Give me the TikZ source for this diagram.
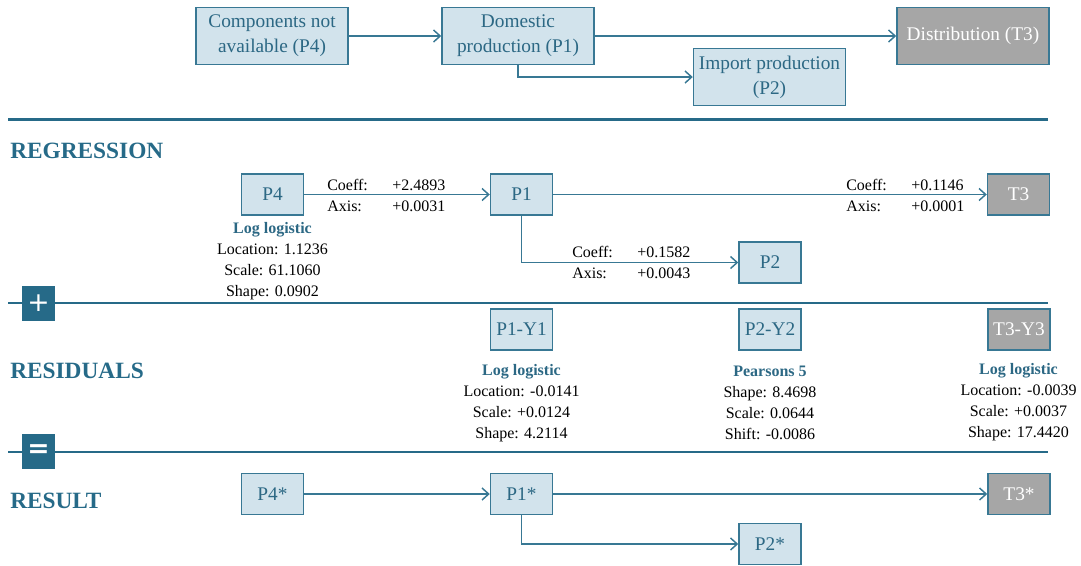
\documentclass[tikz,border=0pt]{standalone}
\usepackage{fontspec}
\setmainfont{Liberation Serif}
\newfontfamily\symfont{DejaVu Sans}
\usepackage{xcolor}
\usepackage{tikz}
\definecolor{lineteal}{RGB}{38, 106, 136}
\definecolor{boxteal}{RGB}{56, 120, 148}
\definecolor{boxfill}{RGB}{210, 227, 236}
\definecolor{textteal}{RGB}{44, 104, 132}
\definecolor{targetgrey}{RGB}{166, 166, 166}
\usetikzlibrary{arrows.meta, positioning, calc}

\begin{document}
\begin{tikzpicture}[
    x=0.75pt, y=-0.75pt,
    >={Straight Barb[length=5pt, width=9pt]},
    stage/.style={rectangle, draw=boxteal, line width=1.1pt, fill=boxfill, text=textteal, minimum width=114pt, minimum height=42.5pt, align=center, inner sep=1pt, font=\fontsize{14.5}{18.75}\selectfont},
    var/.style={rectangle, draw=boxteal, line width=1.1pt, fill=boxfill, text=textteal, minimum width=46.5pt, minimum height=30.5pt, inner sep=0pt, font=\fontsize{14.5}{17}\selectfont},
    goal/.style={var, fill=targetgrey, text=white},
    conn/.style={->, draw=boxteal, line width=1.1pt},
    divider/.style={draw=lineteal, line width=2pt},
    section/.style={anchor=west, text=lineteal, inner sep=0pt, font=\fontsize{17.5}{20}\selectfont\bfseries},
    op/.style={rectangle, fill=lineteal, text=white, minimum width=24.75pt, minimum height=26.25pt, inner sep=0pt, font=\symfont\fontsize{20}{20}\selectfont},
    distinfo/.style={align=center, inner sep=0pt, font=\fontsize{12}{15.75}\selectfont},
    coef/.style={anchor=west, inner sep=0pt, font=\fontsize{12}{15.75}\selectfont}
]
    \useasboundingbox (0,0) rectangle (1081,565);

    % overview
    \node[stage] (comp) at (272,36) {Components not\\available (P4)};
    \node[stage] (dom) at (518,36) {Domestic\\production (P1)};
    \node[stage, fill=targetgrey, text=white] (distr) at (973,36) {Distribution (T3)};
    \node[stage] (imp) at (769.5,77) {Import production\\(P2)};

    \draw[conn] (comp) -- (dom);
    \draw[conn] (dom) -- (distr);
    \draw[conn] (dom.south) |- (imp);

    \draw[divider] (8,119.5) -- (1048,119.5);

    % regression
    \node[section] (reghead) at (10,151) {REGRESSION};
    \node[var] (rp4) at (272.5,194.5) {P4};
    \node[var] (rp1) at (521.5,194.5) {P1};
    \node[goal] (rt3) at (1018.5,194.5) {T3};
    \node[var] (rp2) at (770,262.5) {P2};

    \draw[conn] (rp4) -- (rp1);
    \draw[conn] (rp1) -- (rt3);
    \draw[conn] (rp1.south) |- (rp2);

    \node[coef] (c41) at (327,196.5) {\begin{tabular}{@{}p{48.75pt}@{}l@{}}Coeff: & +2.4893\\Axis: & +0.0031\end{tabular}};
    \node[coef] (c13) at (846,197) {\begin{tabular}{@{}p{48.75pt}@{}l@{}}Coeff: & +0.1146\\Axis: & +0.0001\end{tabular}};
    \node[coef] (c12) at (572,263.5) {\begin{tabular}{@{}p{48.75pt}@{}l@{}}Coeff: & +0.1582\\Axis: & +0.0043\end{tabular}};

    \node[distinfo] (rp4info) at (272.5,261) {\textcolor{textteal}{\bfseries Log logistic}\\Location: 1.1236\\Scale: 61.1060\\Shape: 0.0902};

    \draw[divider] (8,303) -- (1048,303);
    \node[op] (plus) at (38.5,303.5) {+};

    % residuals
    \node[section] (reshead) at (10,371) {RESIDUALS};
    \node[var] (y1) at (521.5,329.5) {P1-Y1};
    \node[var] (y2) at (770,329.5) {P2-Y2};
    \node[goal] (y3) at (1019,329.5) {T3-Y3};

    \node[distinfo] (y1info) at (521.5,403) {\textcolor{textteal}{\bfseries Log logistic}\\Location: -0.0141\\Scale: +0.0124\\Shape: 4.2114};
    \node[distinfo] (y2info) at (770,403) {\textcolor{textteal}{\bfseries Pearsons 5}\\Shape: 8.4698\\Scale: 0.0644\\Shift: -0.0086};
    \node[distinfo] (y3info) at (1018.5,402) {\textcolor{textteal}{\bfseries Log logistic}\\Location: -0.0039\\Scale: +0.0037\\Shape: 17.4420};

    \draw[divider] (8,452) -- (1048,452);
    \node[op, font=\symfont\bfseries\fontsize{20}{20}\selectfont] (equals) at (38.5,451.5) {=};

    % result
    \node[section] (reshd) at (10,501) {RESULT};
    \node[var] (s4) at (272.5,494) {P4*};
    \node[var] (s1) at (521.5,494) {P1*};
    \node[goal] (s3) at (1019,494) {T3*};
    \node[var] (s2) at (770,544) {P2*};

    \draw[conn] (s4) -- (s1);
    \draw[conn] (s1) -- (s3);
    \draw[conn] (s1.south) |- (s2);
\end{tikzpicture}
\end{document}
